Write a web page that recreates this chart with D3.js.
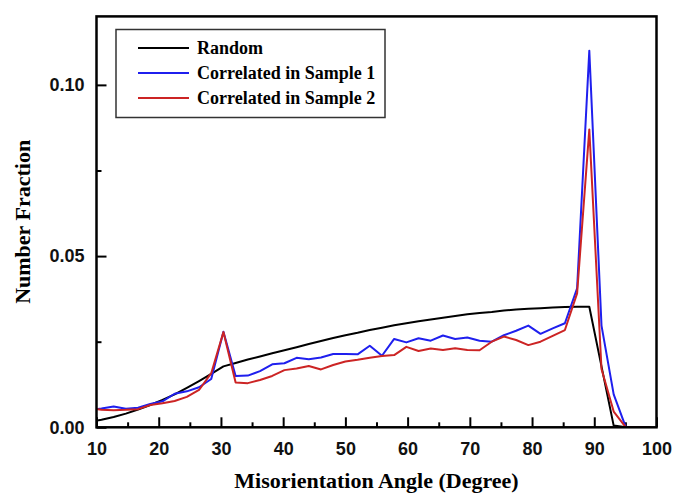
<!DOCTYPE html>
<html>
<head>
<meta charset="utf-8">
<script src="https://cdn.jsdelivr.net/npm/d3@7"></script>
<style>
  html, body { margin: 0; padding: 0; background: #fff; }
  #chart svg { display: block; }
</style>
</head>
<body>
<div id="chart"></div>
<script>
// misorientation angle of each bin (degrees)
const angles = [8.84, 10.8, 12.76, 14.72, 16.68, 18.64, 20.6, 22.56, 24.52, 26.48, 28.44,
  30.4, 32.36, 34.32, 36.28, 38.24, 40.2, 42.16, 44.12, 46.08, 48.04, 50.0, 51.96, 53.92,
  55.88, 57.84, 59.8, 61.76, 63.72, 65.68, 67.64, 69.6, 71.56, 73.52, 75.48, 77.44, 79.4,
  81.36, 83.32, 85.28, 87.24, 89.2, 91.16, 93.12, 95.08, 97.04, 99.0];

const random = [0.0015, 0.0022, 0.0030, 0.0040, 0.0052, 0.0065, 0.0080, 0.0096, 0.0115, 0.0135, 0.0156,
  0.0178, 0.0188, 0.0198, 0.0207, 0.0216, 0.0225, 0.0234, 0.0243, 0.0252, 0.0261, 0.0269, 0.0276, 0.0284,
  0.0291, 0.0298, 0.0304, 0.0310, 0.0315, 0.0320, 0.0325, 0.0330, 0.0334, 0.0337, 0.0341, 0.0344, 0.0346,
  0.0348, 0.0350, 0.0351, 0.0352, 0.0352, 0.0178, 0.0005, 0, 0, 0];

const sample1 = [0.0050, 0.0055, 0.0061, 0.0054, 0.0057, 0.0068, 0.0076, 0.0098, 0.0105, 0.0117, 0.0141,
  0.0279, 0.0150, 0.0151, 0.0164, 0.0184, 0.0187, 0.0203, 0.0199, 0.0204, 0.0214, 0.0214, 0.0213, 0.0238,
  0.0209, 0.0258, 0.0248, 0.0260, 0.0253, 0.0268, 0.0258, 0.0262, 0.0253, 0.0250, 0.0269, 0.0282, 0.0297,
  0.0273, 0.0289, 0.0304, 0.0406, 0.1100, 0.0297, 0.0096, 0, 0, 0];

const sample2 = [0.0056, 0.0051, 0.0050, 0.0051, 0.0053, 0.0065, 0.0070, 0.0077, 0.0089, 0.0109, 0.0158,
  0.0278, 0.0131, 0.0129, 0.0138, 0.0150, 0.0167, 0.0172, 0.0179, 0.0169, 0.0182, 0.0192, 0.0197, 0.0203,
  0.0208, 0.0211, 0.0235, 0.0223, 0.0230, 0.0226, 0.0231, 0.0226, 0.0225, 0.0250, 0.0265, 0.0255, 0.0240,
  0.0250, 0.0267, 0.0284, 0.0391, 0.0870, 0.0170, 0.0046, 0, 0, 0];

const seriesNames = ["Random", "Correlated in Sample 1", "Correlated in Sample 2"];
const seriesColors = ["#000000", "#1f1fee", "#cc2424"];

const xMajorTicks = [10, 20, 30, 40, 50, 60, 70, 80, 90, 100];
const xMinorTicks = [15, 25, 35, 45, 55, 65, 75, 85, 95];
const yMajorTicks = [0, 0.05, 0.10];
const yMinorTicks = [0.025, 0.075];

const width = 673;
const height = 494;
const margin = { top: 16.4, right: 16.5, bottom: 66.7, left: 96.5 };

const svg = d3.select("#chart")
  .append("svg")
  .attr("width", width)
  .attr("height", height);

const x = d3.scaleLinear()
  .domain([10, 100])
  .range([margin.left, width - margin.right]);

const y = d3.scaleLinear()
  .domain([0, 0.12])
  .range([height - margin.bottom, margin.top]);

svg.append("defs").append("clipPath")
  .attr("id", "plot-clip")
  .append("rect")
  .attr("x", margin.left)
  .attr("y", margin.top)
  .attr("width", width - margin.left - margin.right)
  .attr("height", height - margin.top - margin.bottom);

const tickFont = "bold 18px 'Liberation Sans', Arial, sans-serif";
const serifFont = "'Liberation Serif', 'Times New Roman', serif";

// x axis: major + minor ticks pointing inward
const xAxis = svg.append("g")
  .attr("transform", `translate(0,${y(0)})`)
  .call(d3.axisBottom(x).tickValues(xMajorTicks).tickSize(-10).tickPadding(15).tickFormat(d3.format("d")));
xAxis.selectAll("text").style("font", tickFont).attr("fill", "#111");

svg.append("g")
  .attr("transform", `translate(0,${y(0)})`)
  .call(d3.axisBottom(x).tickValues(xMinorTicks).tickSize(-5).tickFormat(""));

// y axis
const yAxis = svg.append("g")
  .attr("transform", `translate(${x(10)},0)`)
  .call(d3.axisLeft(y).tickValues(yMajorTicks).tickSize(-10).tickPadding(12).tickFormat(d3.format(".2f")));
yAxis.selectAll("text").style("font", tickFont).attr("fill", "#111");

svg.append("g")
  .attr("transform", `translate(${x(10)},0)`)
  .call(d3.axisLeft(y).tickValues(yMinorTicks).tickSize(-5).tickFormat(""));

svg.selectAll(".domain").remove();
svg.selectAll(".tick line").attr("stroke", "#000").attr("stroke-width", 2);

// lines
const line = d3.line()
  .x((d, i) => x(angles[i]))
  .y(d => y(d));

const plot = svg.append("g").attr("clip-path", "url(#plot-clip)");

[random, sample1, sample2].forEach((values, i) => {
  plot.append("path")
    .datum(values)
    .attr("fill", "none")
    .attr("stroke", seriesColors[i])
    .attr("stroke-width", 2)
    .attr("stroke-linejoin", "round")
    .attr("d", line);
});

// frame
svg.append("rect")
  .attr("x", margin.left)
  .attr("y", margin.top)
  .attr("width", width - margin.left - margin.right)
  .attr("height", height - margin.top - margin.bottom)
  .attr("fill", "none")
  .attr("stroke", "#000")
  .attr("stroke-width", 2.5);

// legend
const legend = svg.append("g");
legend.append("rect")
  .attr("x", 116)
  .attr("y", 29.5)
  .attr("width", 269)
  .attr("height", 88)
  .attr("fill", "#fff")
  .attr("stroke", "#333")
  .attr("stroke-width", 1.5);

seriesNames.forEach((name, i) => {
  const ly = 48 + i * 25;
  legend.append("line")
    .attr("x1", 138).attr("x2", 189)
    .attr("y1", ly).attr("y2", ly)
    .attr("stroke", seriesColors[i])
    .attr("stroke-width", 2);
  legend.append("text")
    .attr("x", 197)
    .attr("y", ly)
    .attr("dy", "0.35em")
    .style("font-family", serifFont)
    .style("font-weight", "bold")
    .style("font-size", "18px")
    .text(name);
});

// axis titles
svg.append("text")
  .attr("x", (margin.left + width - margin.right) / 2)
  .attr("y", 488)
  .attr("text-anchor", "middle")
  .style("font-family", serifFont)
  .style("font-weight", "bold")
  .style("font-size", "22px")
  .text("Misorientation Angle (Degree)");

svg.append("text")
  .attr("transform", `translate(30,${(margin.top + height - margin.bottom) / 2}) rotate(-90)`)
  .attr("text-anchor", "middle")
  .style("font-family", serifFont)
  .style("font-weight", "bold")
  .style("font-size", "22px")
  .text("Number Fraction");
</script>
</body>
</html>
